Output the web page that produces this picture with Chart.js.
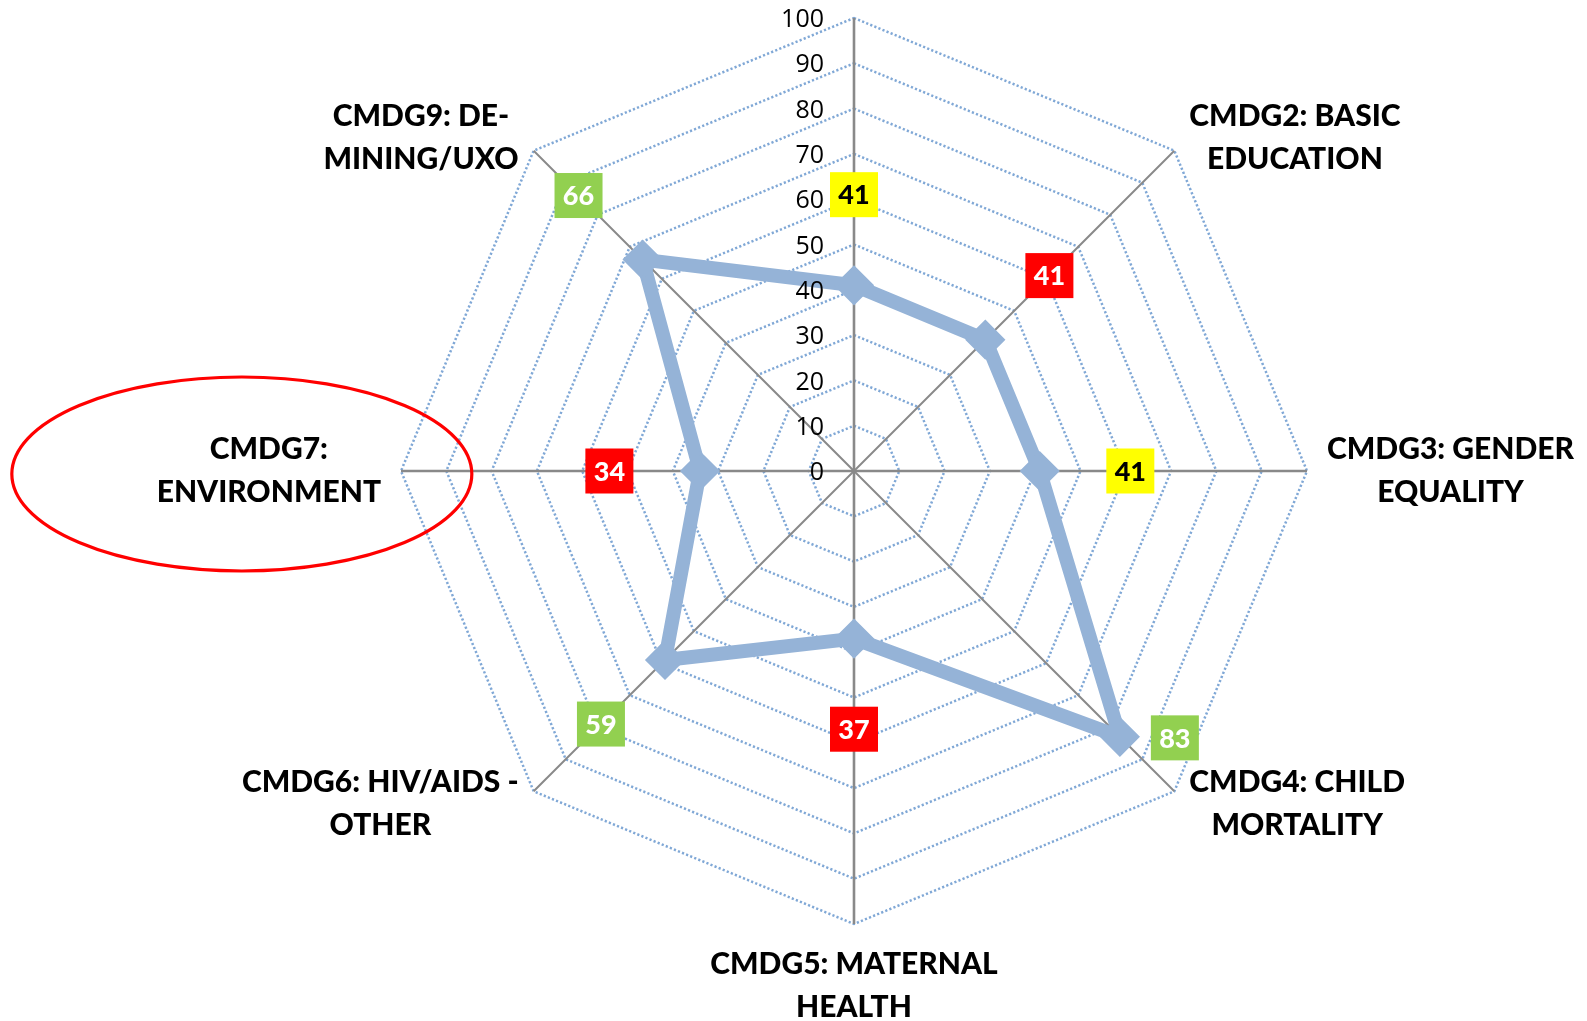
<!DOCTYPE html>
<html>
<head>
<meta charset="utf-8">
<script src="https://cdn.jsdelivr.net/npm/chart.js@4.4.0/dist/chart.umd.min.js"></script>
<style>
html,body{margin:0;padding:0;background:#ffffff;overflow:hidden}
canvas{display:block}
</style>
</head>
<body>
<canvas id="c" width="1587" height="1021"></canvas>
<script>
// ---- data ----
const categories = [
  [''],
  ['CMDG2: BASIC', 'EDUCATION'],
  ['CMDG3: GENDER', 'EQUALITY'],
  ['CMDG4: CHILD', 'MORTALITY'],
  ['CMDG5: MATERNAL', 'HEALTH'],
  ['CMDG6: HIV/AIDS -', 'OTHER'],
  ['CMDG7:', 'ENVIRONMENT'],
  ['CMDG9: DE-', 'MINING/UXO']
];
const scores = [41, 41, 41, 83, 37, 59, 34, 66];
const ratings = ['Y', 'R', 'Y', 'G', 'R', 'G', 'R', 'G'];
const tickValues = [0, 10, 20, 30, 40, 50, 60, 70, 80, 90, 100];
const highlighted = 'CMDG7:';

const FONT = 'Lato, "Open Sans", sans-serif';
const TICKFONT = '"Open Sans", Lato, sans-serif';
const ratingFill = { Y: '#FFFF00', R: '#FF0000', G: '#92D050' };
const ratingText = { Y: '#000000', R: '#FFFFFF', G: '#FFFFFF' };

const overlay = {
  id: 'overlay',
  afterDatasetsDraw(chart) {
    const s = chart.scales.r;
    const ctx = chart.ctx;
    const n = categories.length;
    ctx.save();

    // tick labels
    ctx.font = '25px ' + TICKFONT;
    ctx.fillStyle = '#000000';
    ctx.textAlign = 'right';
    ctx.textBaseline = 'middle';
    s.ticks.forEach(t => {
      const d = s.getDistanceFromCenterForValue(t.value);
      ctx.fillText(String(t.value), s.xCenter - 30, s.yCenter - d + 2);
    });

    // point labels
    ctx.font = '900 30px ' + FONT;
    ctx.textAlign = 'center';
    const lh = 43;
    categories.forEach((lines, i) => {
      if (!lines.join('')) return;
      const p = s.getPointPosition(i, s.drawingArea);
      const ang = i * 2 * Math.PI / n;
      const sx = Math.sin(ang), sy = -Math.cos(ang);
      const w = Math.max(...lines.map(l => ctx.measureText(l).width));
      const h = lines.length * lh;
      const diag = Math.abs(sx) > 0.01 && Math.abs(sy) > 0.01;
      const gap = diag ? 15 : 20;
      let cx, cy;
      if (Math.abs(sx) < 0.01) cx = p.x;
      else cx = sx > 0 ? p.x + gap + w / 2 : p.x - gap - w / 2;
      if (Math.abs(sy) < 0.01) cy = p.y;
      else if (!diag) cy = sy > 0 ? p.y + 19 + h / 2 : p.y - 19 - h / 2;
      else cy = p.y + (sy > 0 ? 12.5 : -13);
      lines.forEach((l, k) => {
        ctx.fillText(l, cx, cy - h / 2 + lh / 2 + k * lh);
      });
      if (lines[0] === highlighted) {
        ctx.save();
        ctx.strokeStyle = '#FF0000';
        ctx.lineWidth = 3.2;
        ctx.beginPath();
        ctx.ellipse(cx - 27, cy + 3, 230, 97, 0, 0, Math.PI * 2);
        ctx.stroke();
        ctx.restore();
      }
    });

    // score boxes
    ctx.font = '900 27px ' + FONT;
    scores.forEach((v, i) => {
      let pos;
      if (v + 20 <= s.max) {
        pos = s.getPointPositionForValue(i, v + 20);
      } else {
        pos = s.getPointPositionForValue(i, v);
        pos = { x: pos.x + 55, y: pos.y + 1 };
      }
      const bw = 48, bh = 45;
      ctx.fillStyle = ratingFill[ratings[i]];
      ctx.fillRect(pos.x - bw / 2, pos.y - bh / 2, bw, bh);
      ctx.fillStyle = ratingText[ratings[i]];
      ctx.textAlign = 'center';
      ctx.textBaseline = 'middle';
      ctx.fillText(String(v), pos.x, pos.y + 1);
    });
    ctx.restore();
  }
};

new Chart(document.getElementById('c'), {
  type: 'radar',
  data: {
    labels: categories,
    datasets: [{
      data: scores,
      borderColor: '#95B3D7',
      backgroundColor: '#95B3D7',
      borderWidth: 14,
      borderJoinStyle: 'round',
      fill: false,
      pointStyle: 'rectRot',
      pointRadius: 18,
      pointHoverRadius: 18,
      pointBackgroundColor: '#95B3D7',
      pointBorderColor: '#95B3D7',
      pointBorderWidth: 3
    }]
  },
  options: {
    responsive: false,
    devicePixelRatio: 1,
    animation: false,
    events: [],
    layout: { padding: { left: 121, right: 0, top: 18, bottom: 97 } },
    plugins: { legend: { display: false }, tooltip: { enabled: false } },
    scales: {
      r: {
        min: 0,
        max: 100,
        afterBuildTicks(scale) {
          scale.ticks = tickValues.map(v => ({ value: v }));
        },
        ticks: { display: false, stepSize: 10 },
        pointLabels: { display: false },
        grid: { color: '#80A8D6', lineWidth: 2.5 },
        border: { dash: [2.2, 2.2] },
        angleLines: {
          color: '#898989',
          lineWidth: c => (c.index % 2 === 0 ? 2.6 : 2)
        }
      }
    }
  },
  plugins: [overlay]
});
</script>
</body>
</html>
